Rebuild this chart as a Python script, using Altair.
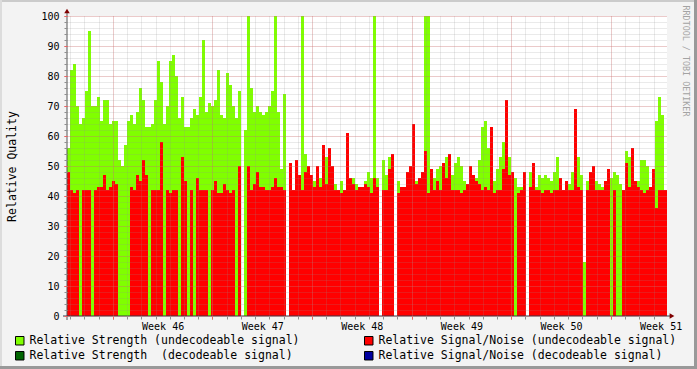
import altair as alt
import pandas as pd
import json

# ---------------- data (one sample every ~5 hours) ----------------
strength = [
    56, 82, 84, 70, 64, 66, 75, 95, 70, 70,
    73, 65, 72, 72, 64, 65, 65, 52, 50, 57,
    65, 67, 64, 68, 76, 72, 63, 63, 64, 72,
    85, 78, 64, 70, 85, 87, 80, 66, 73, 63,
    63, 66, 69, 67, 73, 92, 68, 71, 70, 72,
    82, 67, 66, 81, 77, 70, 66, 75, None, 62,
    100, 76, 68, 70, 68, 67, 68, 70, 75, 100,
    68, 49, 74, None, None, None, None, None, 100, 54,
    50, 47, 45, 46, 46, 49, 53, 55, 49, 44,
    None, 45, 42, None, 46, 46, 44, 43, 42, 45,
    48, 46, 100, 46, None, 52, 47, 53, 45, None,
    45, 42, 43, 48, 48, 44, 45, 46, 47, 100,
    100, 44, 46, 49, 50, 48, 53, 50, 47, 51,
    53, 50, 45, 44, 46, 45, 46, 52, 63, 65,
    56, 45, 45, 49, 53, 58, 50, 53, 45, 46,
    43, 43, 47, None, 48, 49, 43, 47, 46, 47,
    46, 45, 48, 53, 45, 41, 44, 44, 48, 49,
    53, 47, 18, 45, 45, 43, 45, 44, 43, 43,
    47, 46, 48, 47, 44, 41, 55, 53, 50, 44,
    45, 52, 52, 50, 43, 48, 65, 73, 67, 42,
]
snr = [
    48, 42, 41, 42, None, 42, 42, 42, None, 42,
    43, 43, 47, 42, 43, 45, 44, None, None, None,
    None, 43, 42, 47, 45, 52, 47, None, 42, 42,
    42, 58, None, 42, 41, 42, 42, None, 53, 45,
    None, 42, None, 46, 42, 42, 42, None, 42, 45,
    41, 41, 44, 42, 41, 42, None, 50, None, None,
    50, 42, 44, 48, 43, 43, 42, 42, 43, 46,
    43, 43, 42, None, 51, 42, 52, 47, 42, 48,
    50, 47, 43, 50, 43, 57, 44, 56, 50, 42,
    42, 41, 42, 61, 46, 44, 42, 43, 43, 44,
    43, 41, 46, 43, None, 42, 42, 49, 54, None,
    41, 43, 43, 48, 50, 64, 44, 46, 48, 55,
    41, 49, 42, 45, 42, 51, 46, 54, 42, 42,
    42, 41, 42, 44, 50, 47, 45, 44, 42, 43,
    42, 63, 41, 42, 42, 49, 72, 47, 48, None,
    41, 42, 48, None, 43, 51, 42, 42, 41, 42,
    42, 41, 42, 42, 46, 42, 45, 42, 42, 69,
    43, 42, None, 42, 48, 50, 42, 42, 42, 45,
    49, None, 42, None, None, 42, 51, 43, 56, 45,
    43, 42, 41, 42, 43, 49, 36, 42, 42, 42,
]

series_names = [
    "Relative Strength (undecodeable signal)",
    "Relative Signal/Noise (undecodeable signal)",
    "Relative Strength \u00a0(decodeable signal)",
    "Relative Signal/Noise (decodeable signal)",
]
series_colors = ["#80FF00", "#FF0000", "#006400", "#0000A0"]

week_labels = ["Week 46", "Week 47", "Week 48", "Week 49", "Week 50", "Week 51"]
week_start_days = [3.22, 10.22, 17.22, 24.22, 31.22, 38.22]

# ---------------- derived table ----------------
STEP_DAYS = 3 / 14.229
N = len(strength)
DOMAIN = N * STEP_DAYS
df = pd.DataFrame({
    "t0": [i * STEP_DAYS for i in range(N)],
    "t1": [(i + 1) * STEP_DAYS for i in range(N)],
    "strength": strength,
    "snr": snr,
    "s_name": series_names[0],
    "n_name": series_names[1],
})

day_grid = [week_start_days[0] - 3 + k for k in range(43) if week_start_days[0] - 3 + k <= DOMAIN]
week_mid_days = [d + 3.5 for d in week_start_days]
label_map = json.dumps({f"{m:.2f}": lbl for m, lbl in zip(week_mid_days, week_labels)})
label_expr = f"{label_map}[format(datum.value, '.2f')]"

MONO = "DejaVu Sans Mono"
GRID = "#8F8F8F"
MGRID = "#F06060"

xs = alt.Scale(domain=[0, DOMAIN], nice=False, zero=False)
ys = alt.Scale(domain=[0, 100], nice=False)
cscale = alt.Scale(domain=series_names, range=series_colors)

legend = alt.Legend(
    orient="none", legendX=-53, legendY=319, columns=2, direction="horizontal",
    columnPadding=62, rowPadding=2, symbolType="square", symbolSize=72,
    symbolStrokeColor="black", symbolStrokeWidth=1, symbolOpacity=1,
    labelFont=MONO, labelFontSize=11.5, labelColor="black", labelOffset=4,
    labelLimit=0, title=None, padding=0,
)

green = alt.Chart(df).mark_rect().encode(
    x=alt.X("t0:Q", scale=xs, axis=alt.Axis(
        values=day_grid, grid=True, gridColor=GRID, gridOpacity=0.38, gridDash=[1, 1],
        labels=False, ticks=True, tickColor=GRID, tickSize=3, domain=False,
        title=None, orient="bottom", zindex=1)),
    x2="t1:Q",
    y=alt.Y("strength:Q", scale=ys, axis=alt.Axis(
        values=list(range(0, 101, 2)), grid=True, gridColor=GRID, gridOpacity=0.38,
        gridDash=[1, 1], labels=False, ticks=True, tickColor=GRID, tickSize=3,
        domain=False, title=None, orient="left", zindex=1)),
    y2=alt.datum(0),
    color=alt.Color("s_name:N", scale=cscale, legend=legend),
)

red = alt.Chart(df).mark_rect().encode(
    x=alt.X("t0:Q", scale=xs, axis=alt.Axis(
        values=week_start_days, grid=True, gridColor=MGRID, gridOpacity=0.45,
        gridDash=[1, 1], labels=False, ticks=True, tickColor=MGRID, tickSize=3,
        domain=False, title=None, orient="bottom", zindex=1)),
    x2="t1:Q",
    y=alt.Y("snr:Q", scale=ys, axis=alt.Axis(
        values=list(range(0, 101, 10)), grid=True, gridColor=MGRID, gridOpacity=0.45,
        gridDash=[1, 1], labels=True, labelFont=MONO, labelFontSize=10,
        labelColor="black", labelPadding=5, ticks=True, tickColor=MGRID, tickSize=3,
        domain=False, orient="left", zindex=1,
        title="Relative Quality", titleFont=MONO, titleFontSize=11.5,
        titleFontWeight="normal", titleColor="black", titleAngle=270,
        titleX=-55, titleY=150, titleAlign="center", titleBaseline="middle")),
    y2=alt.datum(0),
    color=alt.Color("n_name:N", scale=cscale, legend=legend),
)

labels_layer = alt.Chart(df).mark_rect(opacity=0).encode(
    x=alt.X("t0:Q", scale=xs, axis=alt.Axis(
        values=week_mid_days, labelExpr=label_expr, grid=False, ticks=False,
        domain=False, labelFont=MONO, labelFontSize=10, labelColor="black",
        labelPadding=5, title=None, orient="bottom", zindex=1)),
    x2="t1:Q",
    y=alt.Y("strength:Q", scale=ys, axis=None),
    y2=alt.datum(0),
)

one = pd.DataFrame({"k": [0]})
frame_top = alt.Chart(one).mark_rect(color="#CBCBCB").encode(
    x=alt.value(-67), x2=alt.value(630), y=alt.value(-16), y2=alt.value(-14))
frame_left = alt.Chart(one).mark_rect(color="#DCDCDC").encode(
    x=alt.value(-67), x2=alt.value(-65), y=alt.value(-16), y2=alt.value(353))
frame_bottom = alt.Chart(one).mark_rect(color="#999999").encode(
    x=alt.value(-67), x2=alt.value(630), y=alt.value(350), y2=alt.value(353))
frame_right = alt.Chart(one).mark_rect(color="#999999").encode(
    x=alt.value(627), x2=alt.value(630), y=alt.value(-16), y2=alt.value(353))

y_axis_line = alt.Chart(one).mark_rule(color="#555555", strokeWidth=1).encode(
    x=alt.value(0), y=alt.value(-4), y2=alt.value(304))
x_axis_line = alt.Chart(one).mark_rule(color="#2C3D4F", strokeWidth=1).encode(
    x=alt.value(-4), x2=alt.value(604), y=alt.value(300))
arrow_up = alt.Chart(one).mark_point(shape="triangle-up", filled=True, color="#7F0000",
                                     size=30, opacity=1).encode(
    x=alt.value(0), y=alt.value(-5))
arrow_right = alt.Chart(one).mark_point(shape="triangle-right", filled=True, color="#7F0000",
                                        size=30, opacity=1).encode(
    x=alt.value(605), y=alt.value(300))
watermark = alt.Chart(one).mark_text(
    text="RRDTOOL / TOBI OETIKER", angle=90, font=MONO, fontSize=8.4,
    color="#A3A3A3", align="center", baseline="middle").encode(
    x=alt.value(619), y=alt.value(45))

chart = alt.layer(
    green, red, labels_layer,
    frame_top, frame_left, frame_bottom, frame_right,
    y_axis_line, x_axis_line, arrow_up, arrow_right, watermark,
).resolve_scale(
    x="independent", y="independent"
).resolve_axis(
    x="independent", y="independent"
).properties(
    width=600, height=300,
    autosize=alt.AutoSizeParams(type="none"),
    padding={"left": 67, "top": 16, "right": 30, "bottom": 53},
    background="#F3F3F3",
).configure_view(
    fill="white", stroke=None
)

chart.save("out.html", embed_options={"renderer": "svg", "actions": False})
